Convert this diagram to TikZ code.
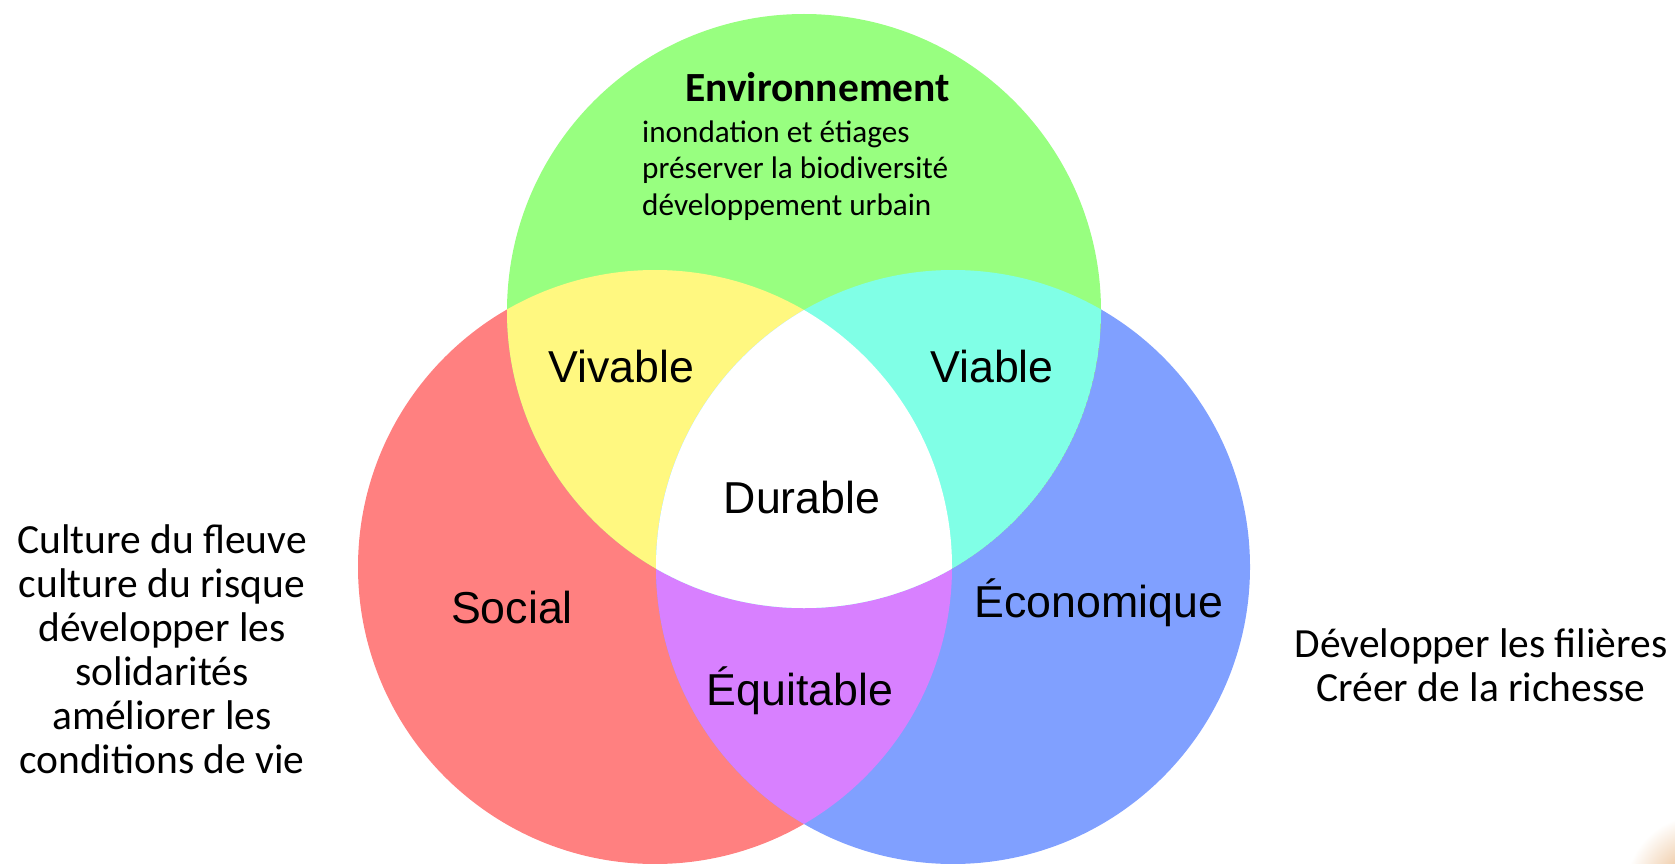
\documentclass[tikz,border=0pt]{standalone}
\usepackage{fontspec}
\setmainfont{Carlito}
\newfontfamily\vennfont{Liberation Sans}
\usetikzlibrary{positioning}
\definecolor{envgreen}{HTML}{98FF80}
\definecolor{socred}{HTML}{FF8080}
\definecolor{ecoblue}{HTML}{80A0FF}
\definecolor{vivyellow}{HTML}{FFF880}
\definecolor{viacyan}{HTML}{80FFE6}
\definecolor{equpurple}{HTML}{D880FF}
\newcommand{\vennr}{297pt}
\tikzset{
  zone/.style={font=\vennfont\fontsize{44.7}{50}\selectfont, anchor=base, inner sep=0pt},
  aims/.style={font=\fontsize{41.5}{44}\selectfont, align=center, anchor=base, inner sep=0pt},
  envtitle/.style={font=\bfseries\fontsize{41.5}{46}\selectfont, anchor=base west, inner sep=0pt},
  envlist/.style={font=\fontsize{31.2}{36.5}\selectfont, align=left, anchor=base west, inner sep=0pt},
}

\begin{document}
\begin{tikzpicture}[x=1pt, y=-1pt]
      \useasboundingbox (0,0) rectangle (1675,864);
      \clip (0,0) rectangle (1675,864);

      \coordinate (env) at (804,311);
      \coordinate (soc) at (655,567);
      \coordinate (eco) at (953,567);

      % the three circles
      \fill[socred]   (soc) circle[radius=\vennr];
      \fill[ecoblue]  (eco) circle[radius=\vennr];
      \fill[envgreen] (env) circle[radius=\vennr];

      % overlaps
      \begin{scope}
        \clip (soc) circle[radius=\vennr];
        \fill[vivyellow] (env) circle[radius=\vennr];
        \fill[equpurple] (eco) circle[radius=\vennr];
        \clip (eco) circle[radius=\vennr];
        \fill[white] (env) circle[radius=\vennr];
      \end{scope}
      \begin{scope}
        \clip (eco) circle[radius=\vennr];
        \clip (env) circle[radius=\vennr];
        \fill[viacyan] (env) circle[radius=\vennr];
        \clip (soc) circle[radius=\vennr];
        \fill[white] (env) circle[radius=\vennr];
      \end{scope}

      % corner of the slide picture
      \shade[inner color=brown!60!orange!70, outer color=white] (1700,890) circle[radius=75pt];

      \node[zone] (vivable) at (621,382) {Vivable};
      \node[zone] (viable) at (992,382) {Viable};
      \node[zone] (durable) at (802,513) {Durable};
      \node[zone] (social) at (512,623) {Social};
      \node[zone] (economique) at (1099,617) {Économique};
      \node[zone] (equitable) at (800,705) {Équitable};

      % multi-line nodes sit on their last baseline
      \node[envtitle] (envname) at (685,102) {Environnement};
      \node[envlist] (envaims) at (642,215) {inondation et étiages\\préserver la biodiversité\\développement urbain};

      \node[aims] (socaims) at (162,773) {Culture du fleuve\\culture du risque\\développer les\\solidarités\\améliorer les\\conditions de vie};
      \node[aims] (ecoaims) at (1481,701) {Développer les filières\\Créer de la richesse};
\end{tikzpicture}
\end{document}
